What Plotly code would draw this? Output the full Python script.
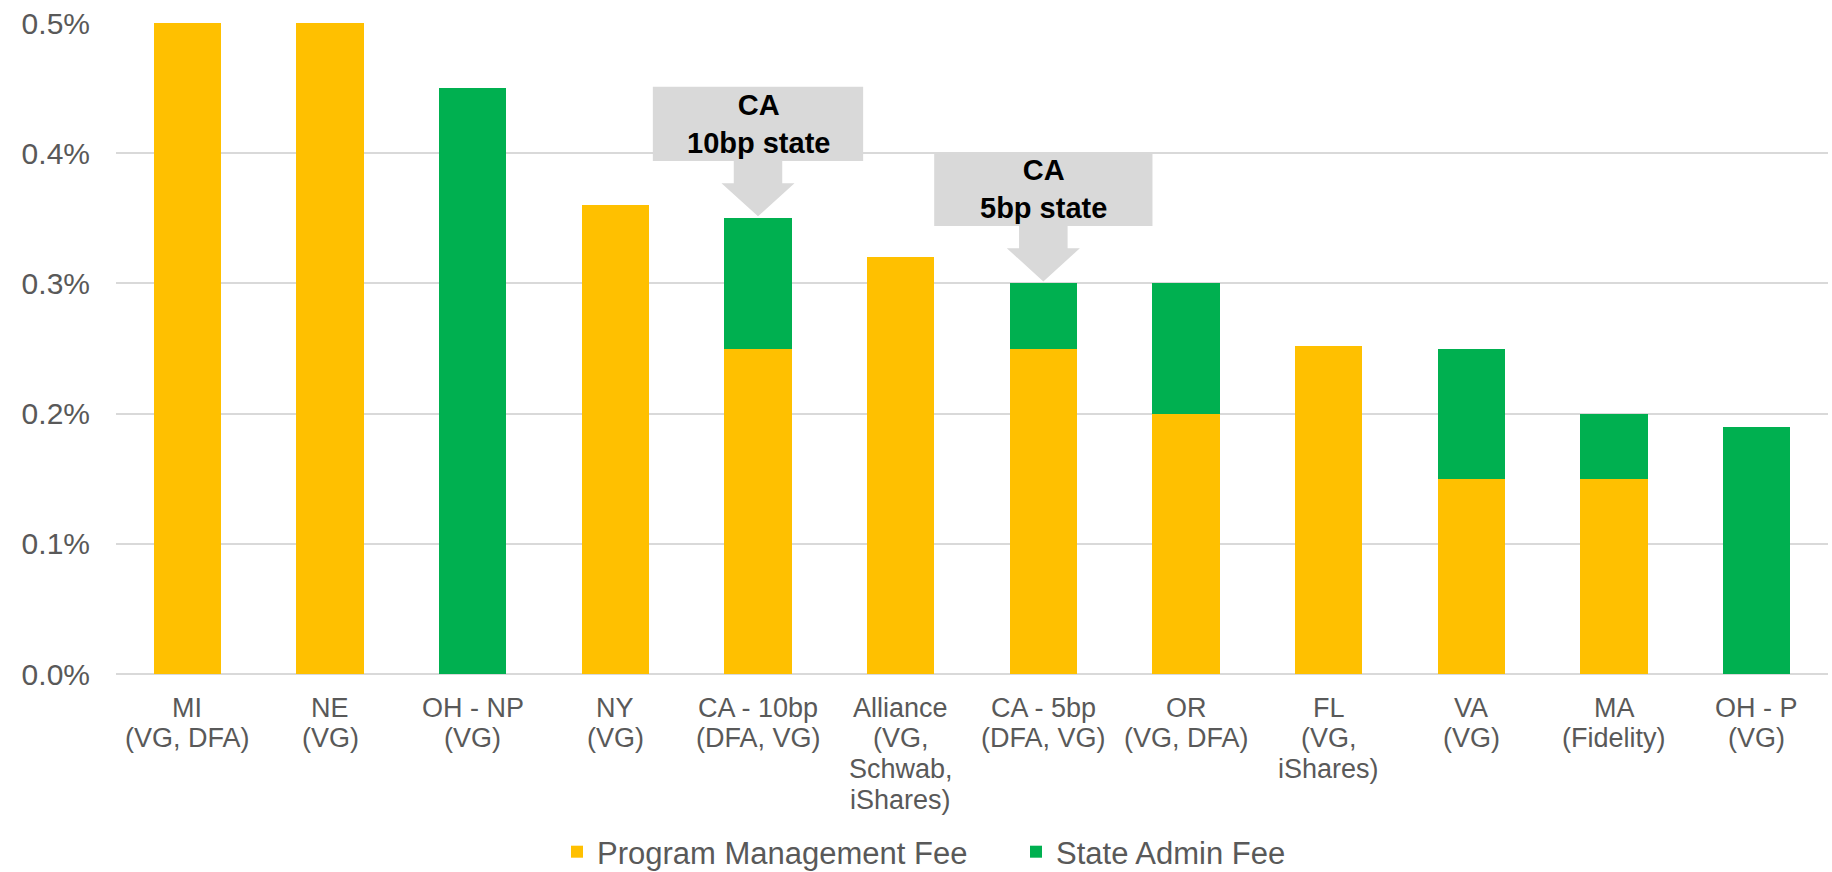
import plotly.graph_objects as go

categories = ["MI<br>(VG, DFA)", "NE<br>(VG)", "OH - NP<br>(VG)", "NY<br>(VG)",
              "CA - 10bp<br>(DFA, VG)", "Alliance<br>(VG,<br>Schwab,<br>iShares)",
              "CA - 5bp<br>(DFA, VG)", "OR<br>(VG, DFA)", "FL<br>(VG,<br>iShares)",
              "VA<br>(VG)", "MA<br>(Fidelity)", "OH - P<br>(VG)"]
program_fee = [0.50, 0.50, 0.00, 0.36, 0.25, 0.32, 0.25, 0.20, 0.252, 0.15, 0.15, 0.00]
state_fee = [0.00, 0.00, 0.45, 0.00, 0.10, 0.00, 0.05, 0.10, 0.00, 0.10, 0.05, 0.19]
y_ticks = [0.0, 0.1, 0.2, 0.3, 0.4, 0.5]

# callouts: (text, category index, box half-width in category units)
callout_text = ["<b>CA</b><br><b>10bp state</b>", "<b>CA</b><br><b>5bp state</b>"]
callout_idx = [4, 6]
callout_halfw = [0.737, 0.765]

FONT = "Liberation Sans, Arial, sans-serif"
ORANGE = "#FFC000"
GREEN = "#00B050"
GREY_TXT = "#595959"
BOX = "#D9D9D9"

x_idx = list(range(len(categories)))

fig = go.Figure()
fig.add_trace(go.Bar(x=x_idx, y=program_fee, name="Program Management Fee",
                     marker=dict(color=ORANGE, line=dict(width=0)), width=0.47))
fig.add_trace(go.Bar(x=x_idx, y=state_fee, name="State Admin Fee",
                     marker=dict(color=GREEN, line=dict(width=0)), width=0.47))

shapes = []
annotations = []
for txt, i, hw in zip(callout_text, callout_idx, callout_halfw):
    top = program_fee[i] + state_fee[i]
    tip = top + 0.0015
    head_base = tip + 0.0255
    box_bot = head_base + 0.017
    box_top = box_bot + 0.057
    sh = 0.17   # shaft half width
    hh = 0.256  # head half width
    shapes.append(dict(type="rect", xref="x", yref="y", x0=i - hw, x1=i + hw,
                       y0=box_bot, y1=box_top, fillcolor=BOX, line=dict(width=0),
                       layer="above"))
    path = (f"M {i - sh} {box_bot} L {i + sh} {box_bot} L {i + sh} {head_base} "
            f"L {i + hh} {head_base} L {i} {tip} L {i - hh} {head_base} "
            f"L {i - sh} {head_base} Z")
    shapes.append(dict(type="path", xref="x", yref="y", path=path, fillcolor=BOX,
                       line=dict(width=0), layer="above"))
    annotations.append(dict(x=i, y=(box_bot + box_top) / 2, xref="x", yref="y",
                            text=txt, showarrow=False,
                            font=dict(family=FONT, size=29, color="#000000"),
                            xanchor="center", yanchor="middle"))

# category labels, one text line per annotation (tighter line spacing than ticks)
LINE_H = 30.7
for i, lab in zip(x_idx, categories):
    for k, line in enumerate(lab.split("<br>")):
        annotations.append(dict(x=i, y=0, xref="x", yref="paper", text=line,
                                showarrow=False, xanchor="center", yanchor="middle",
                                yshift=-(33.5 + LINE_H * k),
                                font=dict(family=FONT, size=27, color=GREY_TXT)))

fig.update_layout(
    width=1832, height=872,
    margin=dict(l=116, r=4, t=23, b=198, autoexpand=False),
    paper_bgcolor="white", plot_bgcolor="white",
    barmode="stack",
    font=dict(family=FONT, color=GREY_TXT),
    shapes=shapes,
    annotations=annotations,
    showlegend=True,
    legend=dict(orientation="h", x=0.2576, xanchor="left", y=-0.2735, yanchor="middle",
                font=dict(family=FONT, size=31, color=GREY_TXT),
                itemwidth=30, entrywidth=414, traceorder="normal",
                tracegroupgap=0),
    xaxis=dict(range=[-0.5, len(categories) - 0.5], tickmode="array",
               tickvals=x_idx, showticklabels=False, showgrid=False,
               zeroline=False, showline=False, ticks="", automargin=False),
    yaxis=dict(range=[0, 0.5], tickmode="array", tickvals=y_ticks,
               ticktext=[f"{v:.1f}%" for v in y_ticks],
               showgrid=True, gridcolor="#D9D9D9", gridwidth=2,
               zeroline=True, zerolinecolor="#D9D9D9", zerolinewidth=2,
               showline=False, ticks="", automargin=False,
               tickfont=dict(family=FONT, size=30, color=GREY_TXT),
               ticklabelstandoff=25),
)

fig.write_html(
    "out.html",
    config={"displayModeBar": False},
    post_script="document.documentElement.style.margin='0';"
                "document.body.style.margin='0';"
                "document.body.style.overflow='hidden';",
)
